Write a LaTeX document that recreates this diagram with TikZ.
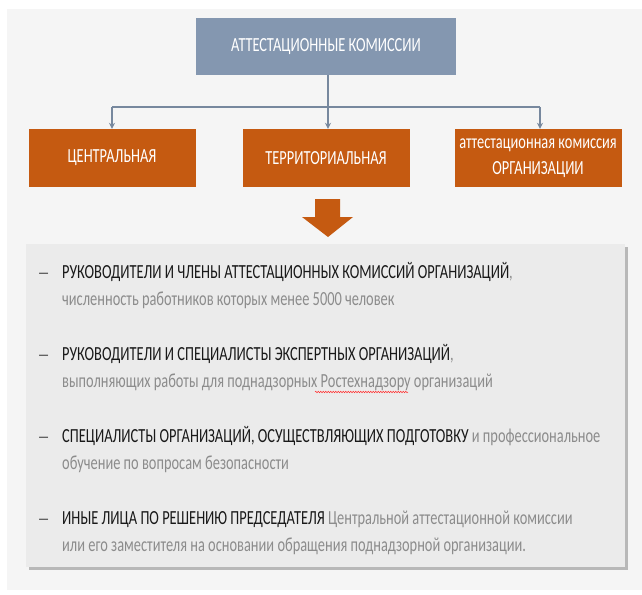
\documentclass[tikz,border=0pt]{standalone}
\usepackage{fontspec}
\setmainfont[FakeStretch=0.72]{Carlito}
\usetikzlibrary{arrows.meta,decorations.pathmorphing}
\definecolor{slate}{HTML}{8497B0}
\definecolor{rust}{HTML}{C55A11}
\definecolor{panelgray}{HTML}{EBEBEB}
\definecolor{softgray}{HTML}{8C8C8C}
\newcommand{\itemdash}{\llap{\textcolor{black!75}{\fontsize{17}{17}\selectfont\textemdash}\hspace{13pt}}}
\tikzstyle{headbox} = [fill=slate, text=white, minimum width=260pt, minimum height=57pt, inner sep=0pt, font=\fontsize{20}{22}\selectfont]
\tikzstyle{kindbox} = [fill=rust, text=white, minimum width=167pt, minimum height=58pt, inner sep=0pt, align=center, font=\fontsize{20}{26}\selectfont]
\tikzstyle{link} = [draw=slate!90!black, line width=1.8pt, -{Stealth[length=6pt,width=6pt]}]
\tikzstyle{item} = [anchor=west, inner sep=0pt, align=left, text=softgray, font=\fontsize{20}{27}\selectfont]

\begin{document}
\begin{tikzpicture}[x=1pt, y=-1pt]
	\useasboundingbox (0,0) rectangle (642,594);
	\fill[white] (0,0) rectangle (642,594);
	\fill[black!4] (7,9) rectangle (642,590);
	
	\node[headbox] (top) at (326,46.5) {АТТЕСТАЦИОННЫЕ КОМИССИИ};
	\node[kindbox] (central) at (112,158) {ЦЕНТРАЛЬНАЯ};
	\node[kindbox] (terr) at (326,158) {ТЕРРИТОРИАЛЬНАЯ};
	\node[kindbox] (org) at (538,158) {аттестационная комиссия\\ОРГАНИЗАЦИИ};
	
	\coordinate (fork) at (328,107);
	\coordinate (forkL) at (112,107);
	\coordinate (forkR) at (540,107);
	\draw[draw=slate!90!black, line width=1.8pt] (top.south -| fork) -- (fork);
	\draw[draw=slate!90!black, line width=1.8pt] (forkL) -- (forkR);
	\draw[link] (forkL) -- (forkL |- central.north);
	\draw[link] (fork) -- (fork |- terr.north);
	\draw[link] (forkR) -- (forkR |- org.north);
	
	\fill[rust] (315,199) -- (340,199) -- (340,217) -- (353,217) -- (328,237) -- (302,217) -- (315,217) -- cycle;
	
	\fill[black!28] (29,247) rectangle (628,570);
	\fill[panelgray] (26,244) rectangle (625,567);
	
	\node[item] (i1) at (62,286) {\itemdash\textcolor{black!90}{РУКОВОДИТЕЛИ И ЧЛЕНЫ АТТЕСТАЦИОННЫХ КОМИССИЙ ОРГАНИЗАЦИЙ},\\численность работников которых менее 5000 человек};
	\node[item] (i2) at (62,368) {\itemdash\textcolor{black!90}{РУКОВОДИТЕЛИ И СПЕЦИАЛИСТЫ ЭКСПЕРТНЫХ ОРГАНИЗАЦИЙ},\\выполняющих работы для поднадзорных Ростехнадзору организаций};
	\node[item] (i3) at (62,450) {\itemdash\textcolor{black!90}{СПЕЦИАЛИСТЫ ОРГАНИЗАЦИЙ, ОСУЩЕСТВЛЯЮЩИХ ПОДГОТОВКУ} и профессиональное\\обучение по вопросам безопасности};
	\node[item] (i4) at (62,533) {\itemdash\textcolor{black!90}{ИНЫЕ ЛИЦА ПО РЕШЕНИЮ ПРЕДСЕДАТЕЛЯ} Центральной аттестационной комиссии\\или его заместителя на основании обращения поднадзорной организации.};
	
	\draw[red!80, line width=0.5pt, decorate, decoration={snake, amplitude=0.8pt, segment length=2.5pt}] (315,392) -- (408,392);
\end{tikzpicture}
\end{document}
